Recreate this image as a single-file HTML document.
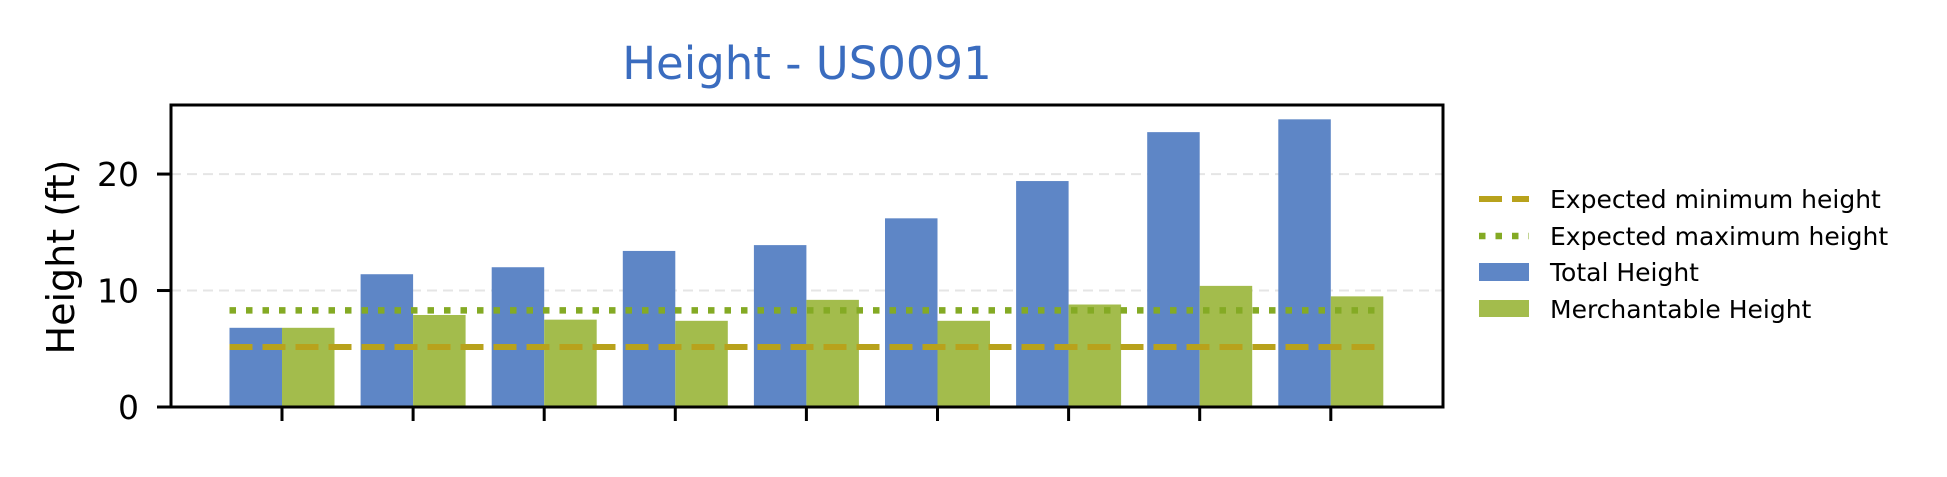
<!DOCTYPE html>
<html><head><meta charset="utf-8"><style>
html,body{margin:0;padding:0;background:#fff;}
svg text{font-family:"DejaVu Sans","Liberation Sans",sans-serif;}
</style></head><body>
<svg id="chart" width="1947" height="472" viewBox="0 0 1947 472" xmlns="http://www.w3.org/2000/svg">
<text x="807" y="79" font-size="45" fill="#3a6cbf" text-anchor="middle">Height - US0091</text>
<text transform="translate(74,257) rotate(-90)" font-size="38" text-anchor="middle">Height (ft)</text>
<g id="grid"></g>
<g id="bars"></g>
<g id="refs"></g>
<rect x="171" y="105" width="1272" height="302" fill="none" stroke="#000" stroke-width="3"/>
<g id="axes"></g>
<g>
<line x1="1479" y1="199" x2="1529" y2="199" stroke="#b8a21c" stroke-width="6" stroke-dasharray="23,10"/>
<text x="1550" y="208" font-size="25">Expected minimum height</text>
<line x1="1479" y1="236" x2="1529" y2="236" stroke="#84aa24" stroke-width="6.5" stroke-dasharray="6.5,10"/>
<text x="1550" y="245" font-size="25">Expected maximum height</text>
<rect x="1479" y="263" width="50" height="18" fill="#5e86c6"/>
<text x="1550" y="281" font-size="25">Total Height</text>
<rect x="1479" y="300" width="50" height="17" fill="#a3bc4c"/>
<text x="1550" y="318" font-size="25">Merchantable Height</text>
</g>
</svg>
<script>
const categories = ["1","2","3","4","5","6","7","8","9"];
const totalHeight = [6.8, 11.4, 12.0, 13.4, 13.9, 16.2, 19.4, 23.6, 24.7];
const merchHeight = [6.8, 7.9, 7.5, 7.4, 9.2, 7.4, 8.8, 10.4, 9.5];
const expectedMin = 5.15;
const expectedMax = 8.3;
const yTicks = [0, 10, 20];
const yTickLabels = ["0", "10", "20"];

const NS = "http://www.w3.org/2000/svg";
const L=171, R=1443, T=105, B=407, yMax=25.93;
const x0=282, step=131.1, bw=52.5;
const xs = i => x0 + i*step;
const ys = v => B - v/yMax*(B-T);
function mk(tag, attrs, parent){const e=document.createElementNS(NS,tag);for(const k in attrs)e.setAttribute(k,attrs[k]);document.getElementById(parent).appendChild(e);return e;}

yTicks.forEach((t,i)=>{
  if(t>0){const g=mk('line',{x1:L,x2:R,y1:ys(t),y2:ys(t),stroke:'#e5e5e5','stroke-width':2,'stroke-dasharray':'10,6'},'grid');
  
  }
  const tk=mk('line',{x1:L-14,x2:L,y1:ys(t),y2:ys(t),stroke:'#000','stroke-width':3},'axes');
  
  
  const tx=mk('text',{x:L-32,y:ys(t)+12,'font-size':33,'text-anchor':'end'},'axes');
  tx.textContent=yTickLabels[i];
  
  
});
categories.forEach((c,i)=>{
  const b1=mk('rect',{x:xs(i)-bw,y:ys(totalHeight[i]),width:bw,height:B-ys(totalHeight[i]),fill:'#5e86c6'},'bars');
  
  
  const b2=mk('rect',{x:xs(i),y:ys(merchHeight[i]),width:bw,height:B-ys(merchHeight[i]),fill:'#a3bc4c'},'bars');
  
  
  const tk=mk('line',{x1:xs(i),x2:xs(i),y1:B,y2:B+14,stroke:'#000','stroke-width':3},'axes');
  
  
});
const xa=xs(0)-bw, xb=xs(categories.length-1)+bw;
const mn=mk('line',{x1:xa,x2:xb,y1:ys(expectedMin),y2:ys(expectedMin),stroke:'#b8a21c','stroke-width':6,'stroke-dasharray':'23,10'},'refs');


const mx=mk('line',{x1:xa,x2:xb,y1:ys(expectedMax),y2:ys(expectedMax),stroke:'#84aa24','stroke-width':6.5,'stroke-dasharray':'6.5,10'},'refs');


</script>
</body></html>
